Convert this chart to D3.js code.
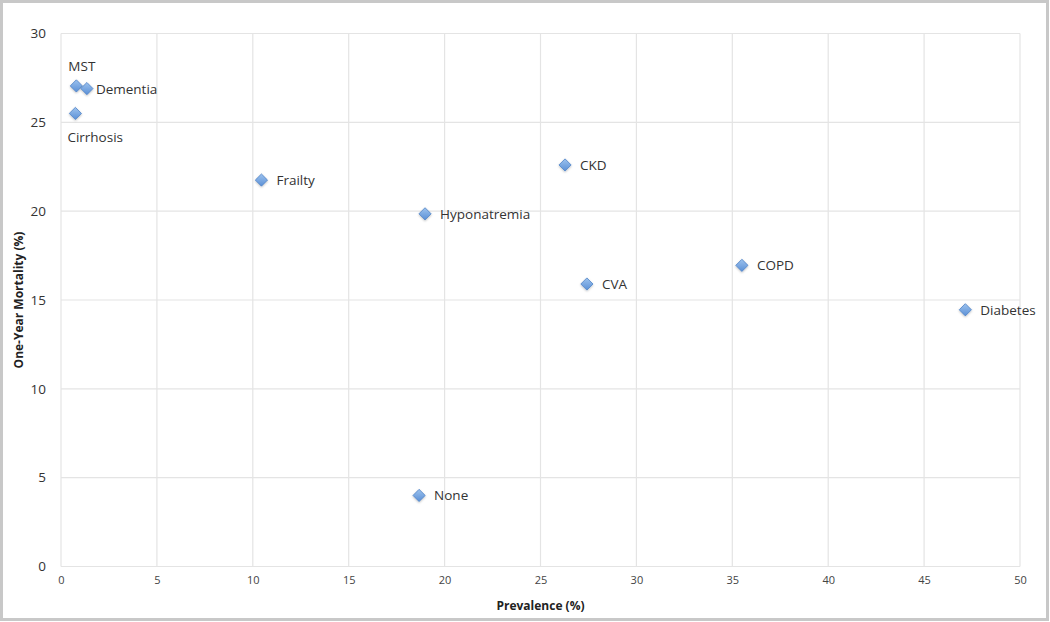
<!DOCTYPE html>
<html>
<head>
<meta charset="utf-8">
<script src="https://cdn.jsdelivr.net/npm/d3@7"></script>
<style>
  html, body { margin: 0; padding: 0; background: #fff; }
  svg { display: block; }
  text { font-family: "Open Sans", "Liberation Sans", sans-serif; }
</style>
</head>
<body>
<svg id="chart" width="1050" height="622"></svg>
<script>
const labels = ["MST", "Dementia", "Cirrhosis", "Frailty", "Hyponatremia", "CKD", "CVA", "COPD", "Diabetes", "None"];
const prevalence = [0.8, 1.35, 0.75, 10.45, 18.98, 26.28, 27.42, 35.5, 47.15, 18.67];
const mortality = [27.05, 26.9, 25.5, 21.75, 19.85, 22.6, 15.9, 16.95, 14.45, 4.0];
const labelPos = ["above", "near", "below", "right", "right", "right", "right", "right", "right", "right"];
const xTicks = [0, 5, 10, 15, 20, 25, 30, 35, 40, 45, 50];
const yTicks = [0, 5, 10, 15, 20, 25, 30];

const svg = d3.select("#chart");
const W = 1050, H = 622;
const m = { left: 61, right: 30, top: 33.5, bottom: 55.5 };

// outer frame
svg.append("rect").attr("x", 1.5).attr("y", 1.5).attr("width", W - 4).attr("height", H - 4)
  .attr("fill", "#fff").attr("stroke", "#c8c8c8").attr("stroke-width", 3);

const x = d3.scaleLinear().domain([0, 50]).range([m.left, W - m.right]);
const y = d3.scaleLinear().domain([0, 30]).range([H - m.bottom, m.top]);

const defs = svg.append("defs");
const grad = defs.append("linearGradient").attr("id", "dg").attr("x1", 0).attr("y1", 0).attr("x2", 0).attr("y2", 1);
grad.append("stop").attr("offset", "0%").attr("stop-color", "#9cc2ee");
grad.append("stop").attr("offset", "100%").attr("stop-color", "#5b90d6");
const f = defs.append("filter").attr("id", "sh").attr("x", "-50%").attr("y", "-50%").attr("width", "200%").attr("height", "200%");
f.append("feDropShadow").attr("dx", 0).attr("dy", 1).attr("stdDeviation", 1).attr("flood-color", "#000").attr("flood-opacity", 0.25);

// grid
const grid = svg.append("g");
grid.selectAll(".gx").data(xTicks).join("line")
  .attr("x1", d => x(d)).attr("x2", d => x(d)).attr("y1", y(0)).attr("y2", y(30))
  .attr("stroke", "#e4e4e4").attr("stroke-width", 1.2);
grid.selectAll(".gy").data(yTicks).join("line")
  .attr("x1", x(0)).attr("x2", x(50)).attr("y1", d => y(d)).attr("y2", d => y(d))
  .attr("stroke", "#e4e4e4").attr("stroke-width", 1.2);

// axes
const xAxis = d3.axisBottom(x).tickValues(xTicks).tickSize(0).tickPadding(10);
const gx = svg.append("g").attr("transform", `translate(0,${y(0)})`).call(xAxis);
gx.select(".domain").remove();
gx.selectAll("text").attr("font-size", 11).attr("fill", "#444");

const yAxis = d3.axisLeft(y).tickValues(yTicks).tickSize(0).tickPadding(15);
const gy = svg.append("g").attr("transform", `translate(${x(0)},0)`).call(yAxis);
gy.select(".domain").remove();
gy.selectAll("text").attr("font-size", 13.5).attr("fill", "#333");

// titles
svg.append("text").attr("x", (x(0) + x(50)) / 2).attr("y", 610).attr("text-anchor", "middle")
  .attr("font-size", 12).attr("font-weight", "bold").attr("fill", "#222").text("Prevalence (%)");
svg.append("text").attr("transform", `translate(23,${(y(0) + y(30)) / 2}) rotate(-90)`).attr("text-anchor", "middle")
  .attr("font-size", 12).attr("font-weight", "bold").attr("fill", "#222").text("One-Year Mortality (%)");

// points
const data = labels.map((l, i) => ({ label: l, px: prevalence[i], my: mortality[i], pos: labelPos[i] }));
const diamond = d3.symbol().type(d3.symbolDiamond2).size(95);
svg.append("g").selectAll("path").data(data).join("path")
  .attr("d", diamond)
  .attr("transform", d => `translate(${x(d.px)},${y(d.my)})`)
  .attr("fill", "url(#dg)").attr("stroke", "#4f83c6").attr("stroke-width", 0.8)
  .attr("filter", "url(#sh)");

svg.append("g").selectAll("text").data(data).join("text")
  .attr("x", d => d.pos === "right" ? x(d.px) + 15 : d.pos === "near" ? x(d.px) + 9 : x(d.px) - 8)
  .attr("y", d => (d.pos === "right" || d.pos === "near") ? y(d.my) + 5 : d.pos === "above" ? y(d.my) - 15 : y(d.my) + 29)
  .attr("font-size", 13.5).attr("fill", "#333")
  .text(d => d.label);
</script>
</body>
</html>
